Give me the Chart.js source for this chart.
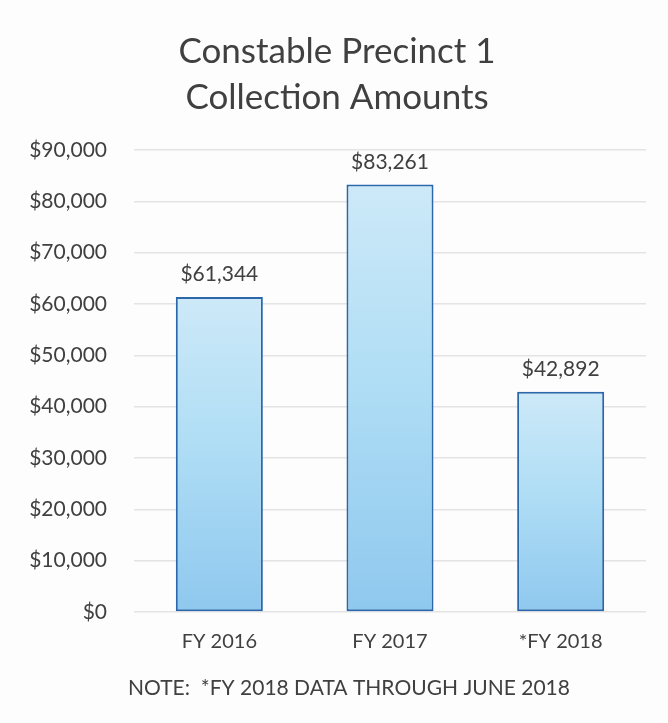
<!DOCTYPE html>
<html>
<head>
<meta charset="utf-8">
<script src="https://cdn.jsdelivr.net/npm/chart.js@4"></script>
<style>
  html, body { margin: 0; padding: 0; background: #fdfdfd; }
  #wrap { width: 668px; height: 723px; }
</style>
</head>
<body>
<div id="wrap"><canvas id="chart" width="668" height="723"></canvas></div>
<script>
// chart data
const categories = ["FY 2016", "FY 2017", "*FY 2018"];
const amounts = [61344, 83261, 42892];
const yTicks = [0, 10000, 20000, 30000, 40000, 50000, 60000, 70000, 80000, 90000];
const titleLines = ["Constable Precinct 1", "Collection Amounts"];
const noteText = "NOTE:  *FY 2018 DATA THROUGH JUNE 2018";

const fontFamily = "Lato, 'Open Sans', sans-serif";
const textColor = "#404040";

const money = v => "$" + v.toLocaleString("en-US");

// draws the value above each bar, and the note under the axis
const valueLabels = {
    id: "valueLabels",
    afterDatasetsDraw(chart) {
        const ctx = chart.ctx;
        const meta = chart.getDatasetMeta(0);
        ctx.save();
        ctx.font = "21px " + fontFamily;
        ctx.fillStyle = textColor;
        ctx.textAlign = "center";
        ctx.textBaseline = "bottom";
        meta.data.forEach((bar, i) => {
            ctx.fillText(money(amounts[i]), bar.x, bar.y - 12);
        });
        // note line, a bit right of centre like the original
        ctx.textBaseline = "middle";
        ctx.fillText(noteText, chart.width / 2 + 15, chart.chartArea.bottom + 76);
        ctx.restore();
    }
};

const barGradient = (context) => {
    const chart = context.chart;
    const area = chart.chartArea;
    if (!area || context.raw == null) return "#a9d8f2";
    const yScale = chart.scales.y;
    const top = yScale.getPixelForValue(context.raw);
    const bottom = yScale.getPixelForValue(0);
    const g = chart.ctx.createLinearGradient(0, top, 0, bottom);
    g.addColorStop(0, "#cde9f8");
    g.addColorStop(0.45, "#b0def5");
    g.addColorStop(1, "#8fc8ee");
    return g;
};

new Chart(document.getElementById("chart"), {
    type: "bar",
    data: {
        labels: categories,
        datasets: [{
            data: amounts,
            backgroundColor: barGradient,
            borderColor: "#2a67ab",
            borderWidth: 2,
            borderSkipped: false,
            barPercentage: 0.51,
            categoryPercentage: 1.0
        }]
    },
    options: {
        responsive: false,
        animation: false,
        layout: { padding: { left: 28, right: 22, top: 10, bottom: 59 } },
        plugins: {
            legend: { display: false },
            tooltip: { enabled: false },
            title: {
                display: true,
                text: titleLines,
                color: textColor,
                font: { family: fontFamily, size: 35, weight: "normal", lineHeight: 1.3 },
                padding: { top: 19, bottom: 30 }
            }
        },
        scales: {
            x: {
                grid: { display: false },
                border: { display: false },
                ticks: {
                    color: textColor,
                    font: { family: fontFamily, size: 20 },
                    padding: 10
                }
            },
            y: {
                min: 0,
                max: 90000,
                afterBuildTicks: (axis) => { axis.ticks = yTicks.map(v => ({ value: v })); },
                afterFit: (axis) => { axis.width = 106; },
                grid: { color: "#e4e4e4", lineWidth: 1.5, drawTicks: false },
                border: { display: false },
                ticks: {
                    color: textColor,
                    font: { family: fontFamily, size: 21 },
                    padding: 27,
                    callback: (v) => money(v)
                }
            }
        }
    },
    plugins: [valueLabels]
});
</script>
</body>
</html>
